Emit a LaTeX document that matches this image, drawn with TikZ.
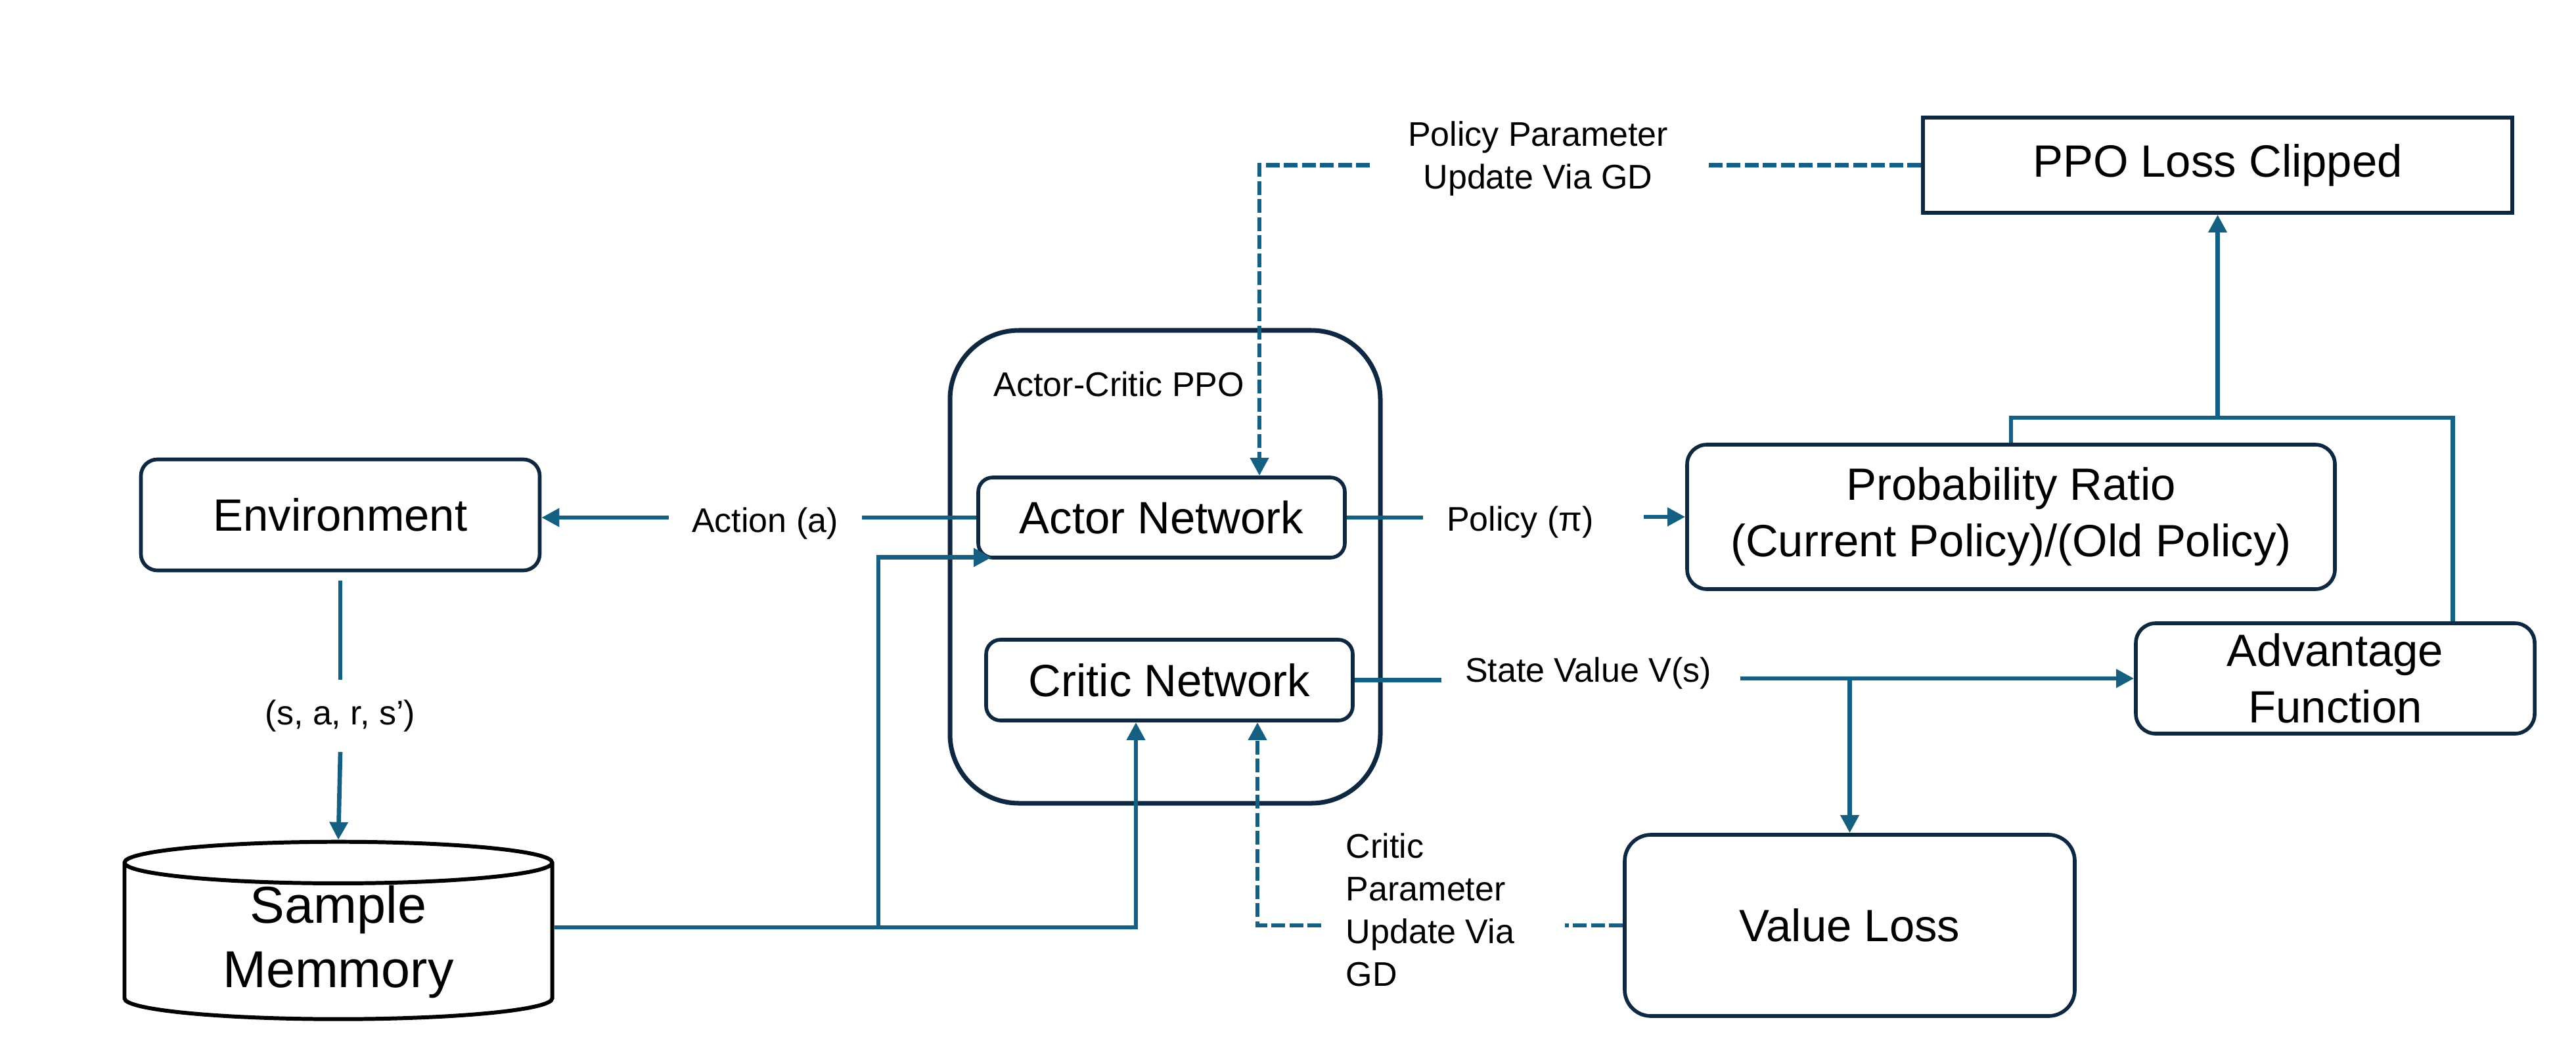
\documentclass[tikz,border=0pt]{standalone}
\usepackage{fontspec}
\setmainfont{Liberation Sans}
\usetikzlibrary{shapes,arrows.meta,positioning,calc}

\definecolor{boxnavy}{HTML}{0E2841}
\definecolor{linkblue}{HTML}{156082}

\newcommand{\bigfont}{\fontsize{19.6}{24.5}\selectfont}
\newcommand{\smallfont}{\fontsize{14.8}{18.5}\selectfont}
\newcommand{\memfont}{\fontsize{22.5}{28}\selectfont}

\tikzset{
  block/.style={draw=boxnavy, line width=1.6pt, rounded corners=0.25cm, align=center, font=\bigfont, inner sep=0pt},
  lbl/.style={font=\smallfont, inner xsep=0.35cm, inner ysep=0.1cm, align=center},
  conn/.style={draw=linkblue, line width=1.9pt},
  flow/.style={conn, -{Triangle[length=0.27cm,width=0.27cm]}},
  update/.style={flow, dash pattern=on 0.21cm off 0.065cm},
}

\begin{document}
\begin{tikzpicture}
    \useasboundingbox (0,0) rectangle (39.21,-16.16);
    % Boxes
    \node[block, minimum width=6.07cm, minimum height=1.69cm] (env) at (5.18,-7.84) {Environment};
    \node[draw=black, line width=1.7pt, shape=cylinder, shape border rotate=90, aspect=0.18,
          minimum width=6.51cm, minimum height=2.10cm, font=\memfont, align=center, inner sep=0pt] (mem) at (5.15,-14.34) {Sample\\Memmory};
    \node[block, rounded corners=1.05cm, line width=2pt, minimum width=6.55cm, minimum height=7.20cm] (ac) at (17.735,-8.63) {};
    \node[lbl, anchor=west, inner xsep=0pt] (acName) at (15.12,-5.85) {Actor-Critic PPO};
    \node[block, rounded corners=0.22cm, minimum width=5.58cm, minimum height=1.22cm] (actor) at (17.68,-7.88) {Actor Network};
    \node[block, rounded corners=0.22cm, minimum width=5.58cm, minimum height=1.23cm] (critic) at (17.80,-10.355) {Critic Network};
    \node[block, rounded corners=0pt, minimum width=8.97cm, minimum height=1.45cm] (ppo) at (33.755,-2.515) {PPO Loss Clipped};
    \node[block, rounded corners=0.3cm, minimum width=9.86cm, minimum height=2.20cm] (ratio) at (30.61,-7.87) {Probability Ratio\\(Current Policy)/(Old Policy)};
    \node[block, rounded corners=0.3cm, minimum width=6.07cm, minimum height=1.68cm] (adv) at (35.545,-10.33) {Advantage\\Function};
    \node[block, rounded corners=0.4cm, minimum width=6.85cm, minimum height=2.76cm] (vloss) at (28.155,-14.09) {Value Loss};

    % Labels
    \node[lbl] (lAction) at (11.645,-7.97) {Action (a)};
    \node[lbl, inner ysep=0.3cm] (lSars) at (5.18,-10.9) {(s, a, r, s’)};
    \node[lbl] (lPolicy) at (23.14,-7.95) {Policy (π)};
    \node[lbl] (lState) at (24.175,-10.25) {State Value V(s)};
    \node[lbl, inner xsep=0.57cm] (lPolicyGD) at (23.41,-2.42) {Policy Parameter\\Update Via GD};
    \node[lbl, align=left, inner xsep=0.37cm] (lCriticGD) at (21.77,-13.85) {Critic\\Parameter\\Update Via\\GD};

    % Helper points
    \coordinate (aTop) at ($(actor.north)+(1.49,0)$);
    \coordinate (aIn) at ($(actor.south west)+(0.23,0.03)$);
    \coordinate (cIn) at ($(critic.south)+(-0.51,0)$);
    \coordinate (cUp) at ($(critic.south)+(1.34,0)$);
    \coordinate (jMem) at (13.37,-14.12);
    \coordinate (jTop) at (33.755,-6.36);
    \coordinate (advTop) at ($(adv.north)+(1.79,0)$);

    % Connectors
    \draw[conn] (actor.west) -- (actor.west -| lAction.east);
    \draw[flow] (lAction.west |- actor.west) -- (env.east |- actor.west);
    \draw[conn, shorten <=0.13cm] (env.south) -- (lSars.north);
    \draw[flow] (lSars.south) -- (mem.north);
    \draw[flow] (jMem -| mem.east) -| (cIn);
    \draw[flow] (jMem) |- (aIn);
    \draw[conn] (actor.east) -- (actor.east -| lPolicy.west);
    \draw[flow, shorten <=0.4cm] (lPolicy.east |- ratio.west) -- (ratio.west);
    \draw[conn] (critic.east) -- (critic.east -| lState.west);
    \draw[flow, shorten <=0.08cm] (lState.east |- adv.west) -- (adv.west);
    \draw[flow] (vloss.north |- adv.west) -- (vloss.north);
    \draw[conn] (ratio.north) |- (jTop) -| (advTop);
    \draw[flow] (jTop) -- (ppo.south);
    % Gradient updates
    \draw[update, -] (ppo.west) -- (ppo.west -| lPolicyGD.east);
    \draw[update] (lPolicyGD.west |- ppo.west) -| (aTop);
    \draw[update, -, shorten >=0.39cm] (vloss.west) -- (vloss.west -| lCriticGD.east);
    \draw[update] (lCriticGD.west |- vloss.west) -| (cUp);
\end{tikzpicture}
\end{document}
